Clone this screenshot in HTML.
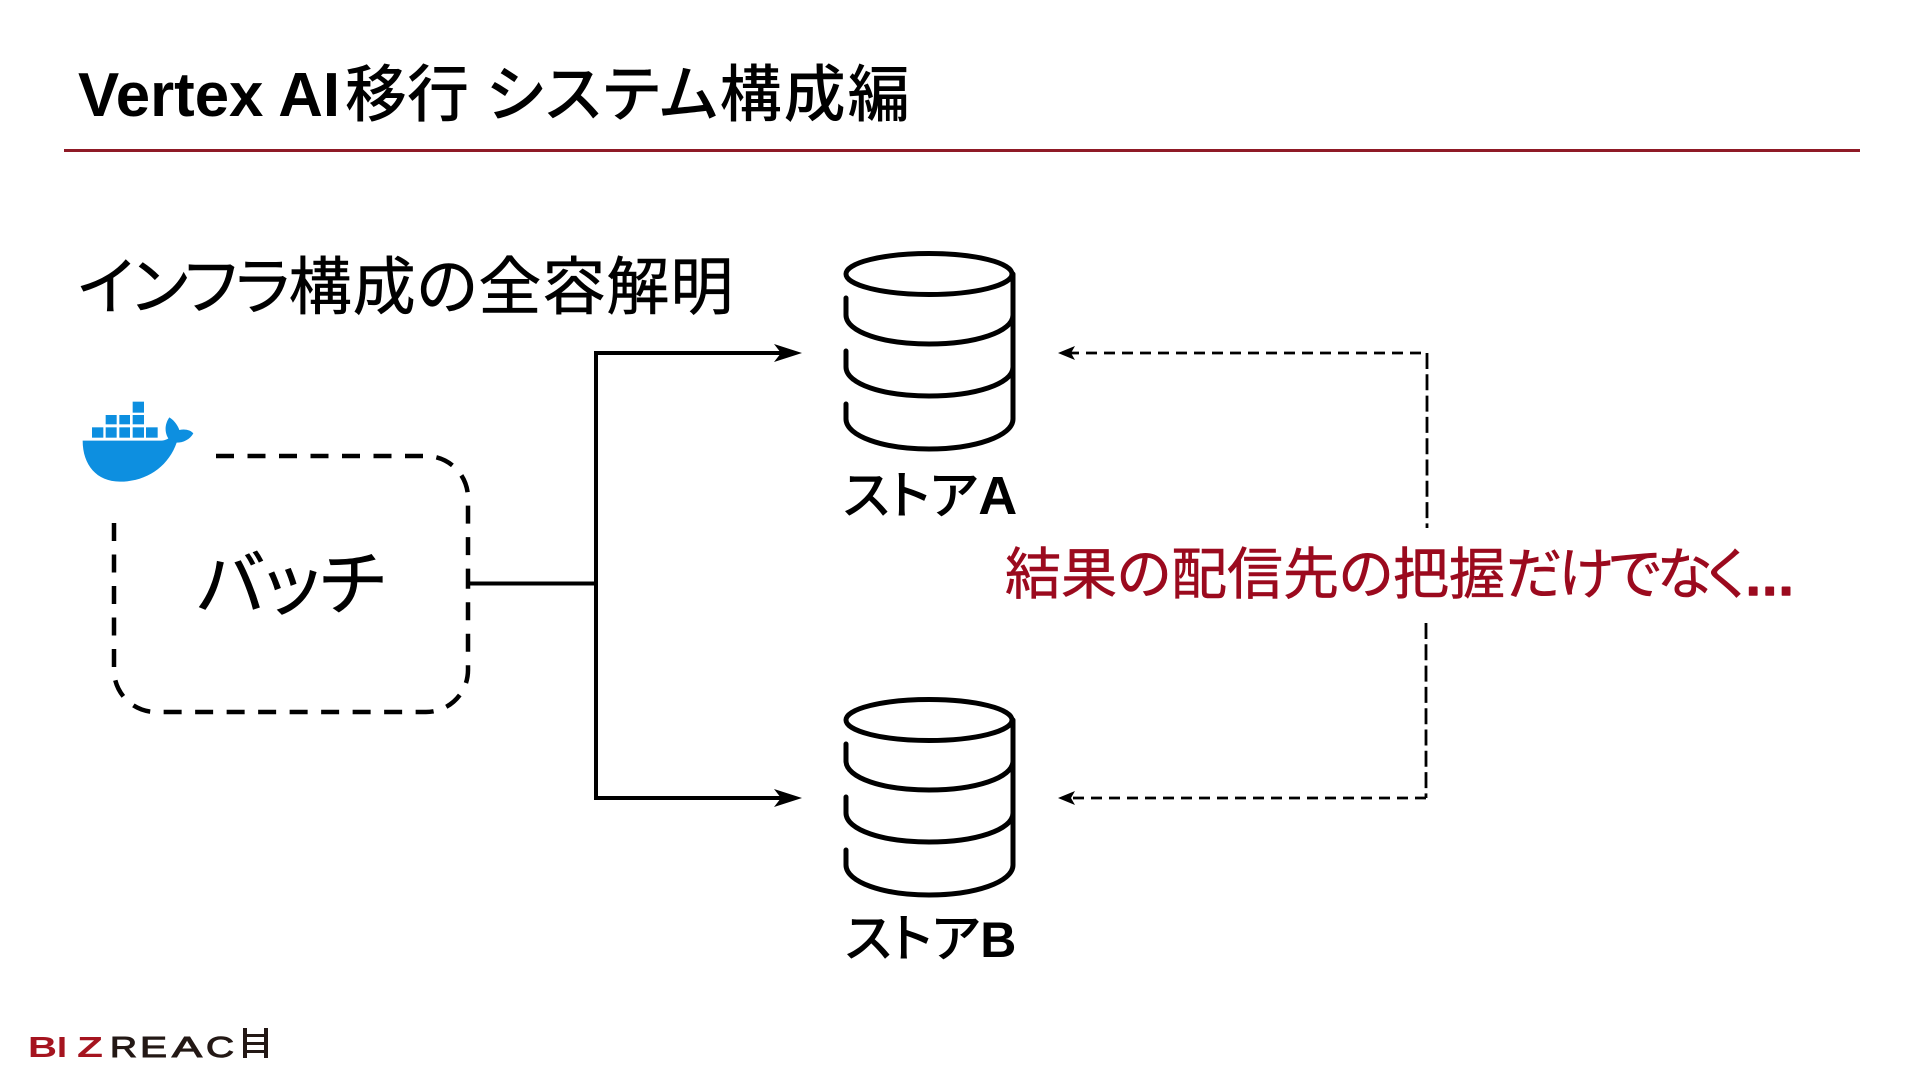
<!DOCTYPE html>
<html lang="ja"><head><meta charset="utf-8"><title>Vertex AI移行 システム構成編</title>
<style>
html,body{margin:0;padding:0;background:#fff;width:1920px;height:1080px;overflow:hidden}
svg{display:block}
text{font-family:"Liberation Sans","Noto Sans CJK JP",sans-serif;fill:#000;font-feature-settings:"palt" 1}
.cyl{fill:none;stroke:#000;stroke-width:5;stroke-linecap:round}
.logo{font-size:29px}
.s{stroke:#000;stroke-width:.6px}
.r{fill:#9b0a1e;stroke:#9b0a1e;stroke-width:.6px}
</style></head><body>
<svg width="1920" height="1080" viewBox="0 0 1920 1080" xmlns="http://www.w3.org/2000/svg">
<defs>
<g id="cyl" class="cyl">
<ellipse cx="929" cy="274" rx="83" ry="20.500"/>
<path d="M1013 274V419C1013 436 975 449 929 449C883 449 846 436 846 419V404"/>
<path d="M846 298V315C846 332 883 344 929 344C975 344 1013 332 1013 315"/>
<path d="M846 351V367C846 384 883 396 929 396C975 396 1013 384 1013 367"/>
</g>
</defs>
<text x="78" y="116" font-size="62" font-weight="700" textLength="262" lengthAdjust="spacingAndGlyphs">Vertex AI</text>
<text x="345" y="116" font-size="62" font-weight="500">移行</text>
<text x="486" y="116" font-size="62" font-weight="500" letter-spacing="2">システム構成編</text>
<rect x="64" y="149" width="1796" height="3" fill="#8f1a26"/>
<text x="78" y="309" font-size="63" class="s"><tspan letter-spacing="-1.500">インフラ</tspan><tspan letter-spacing="1">構成の全容解明</tspan></text>

<g transform="translate(60,380) scale(.33333)" fill="#0d8fe0">
<rect x="218" y="65" width="34" height="33"/>
<rect x="137" y="105" width="33" height="28"/><rect x="178" y="105" width="32" height="28"/><rect x="218" y="105" width="34" height="28"/>
<rect x="96" y="142" width="34" height="31"/><rect x="137" y="142" width="33" height="31"/><rect x="178" y="142" width="32" height="31"/><rect x="218" y="142" width="34" height="31"/><rect x="258" y="142" width="35" height="31"/>
<path d="M68 182H300C312 182 322 178 325 175C315 160 312 135 328 112C345 122 355 140 358 150C375 146 392 150 400 160C390 178 370 188 350 188C325 260 260 305 180 305C110 305 68 255 68 182Z"/>
</g>

<path d="M216 456H426A42 42 0 0 1 468 498V586" fill="none" stroke="#000" stroke-width="4.500" stroke-dasharray="18 13.500"/>
<path d="M114 523V670A42 42 0 0 0 156 712H426A42 42 0 0 0 468 670V586" fill="none" stroke="#000" stroke-width="4.500" stroke-dasharray="18 13.500"/>
<text x="197" y="609" font-size="71" class="s">バッチ</text>

<path d="M468 583.500H596M790 353H596V798H790" fill="none" stroke="#000" stroke-width="4"/>
<path d="M802 353L774 344L781 353L774 362Z" fill="#000"/>
<path d="M802 798L774 789L781 798L774 807Z" fill="#000"/>

<use href="#cyl"/>
<use href="#cyl" y="446"/>
<text x="843" y="514" font-size="52" font-weight="500">ストア<tspan font-weight="700" font-size="54">A</tspan></text>
<text x="845" y="957" font-size="52" font-weight="500">ストア<tspan font-weight="700" font-size="50">B</tspan></text>

<path d="M1068 353H1427" fill="none" stroke="#000" stroke-width="2.800" stroke-dasharray="11 7"/>
<path d="M1427 353V528" fill="none" stroke="#000" stroke-width="2.800" stroke-dasharray="16 5.300"/>
<path d="M1426 623V798" fill="none" stroke="#000" stroke-width="2.800" stroke-dasharray="16 5.300"/>
<path d="M1426 798H1068" fill="none" stroke="#000" stroke-width="2.800" stroke-dasharray="11 7"/>
<path d="M1058 353L1075 346L1071 353L1075 360Z" fill="#000"/>
<path d="M1058 798L1075 791L1071 798L1075 805Z" fill="#000"/>

<text x="1005" y="594" font-size="56" class="r">結果の配信先の把握</text>
<text x="1506" y="594" font-size="56" class="r" textLength="240">だけでなく</text>
<text x="1746" y="595" font-size="52" font-weight="700" class="r" letter-spacing="2" style="stroke-width:1.500px;stroke-linejoin:round">...</text>

<g class="logo">
<text x="28" y="1057" font-weight="700" textLength="29" lengthAdjust="spacingAndGlyphs" style="fill:#a5141f">B</text>
<text x="57" y="1057" font-weight="700" textLength="10" lengthAdjust="spacingAndGlyphs" style="fill:#a5141f">I</text>
<text x="77" y="1057" font-weight="700" textLength="26" lengthAdjust="spacingAndGlyphs" style="fill:#a5141f">Z</text>
<text x="110" y="1057" textLength="27" lengthAdjust="spacingAndGlyphs" style="fill:#231815;stroke:#231815;stroke-width:1px">R</text>
<text x="140" y="1057" textLength="27" lengthAdjust="spacingAndGlyphs" style="fill:#231815;stroke:#231815;stroke-width:1px">E</text>
<text x="172" y="1057" textLength="30" lengthAdjust="spacingAndGlyphs" style="fill:#231815;stroke:#231815;stroke-width:1px">A</text>
<text x="206" y="1057" textLength="28" lengthAdjust="spacingAndGlyphs" style="fill:#231815;stroke:#231815;stroke-width:1px">C</text>
</g>
<g fill="#231815"><rect x="243" y="1028" width="4" height="30"/><rect x="264" y="1028" width="4" height="30"/><rect x="243" y="1034" width="25" height="3"/><rect x="243" y="1042" width="25" height="3"/><rect x="243" y="1050" width="25" height="3"/></g>
</svg>
</body></html>
